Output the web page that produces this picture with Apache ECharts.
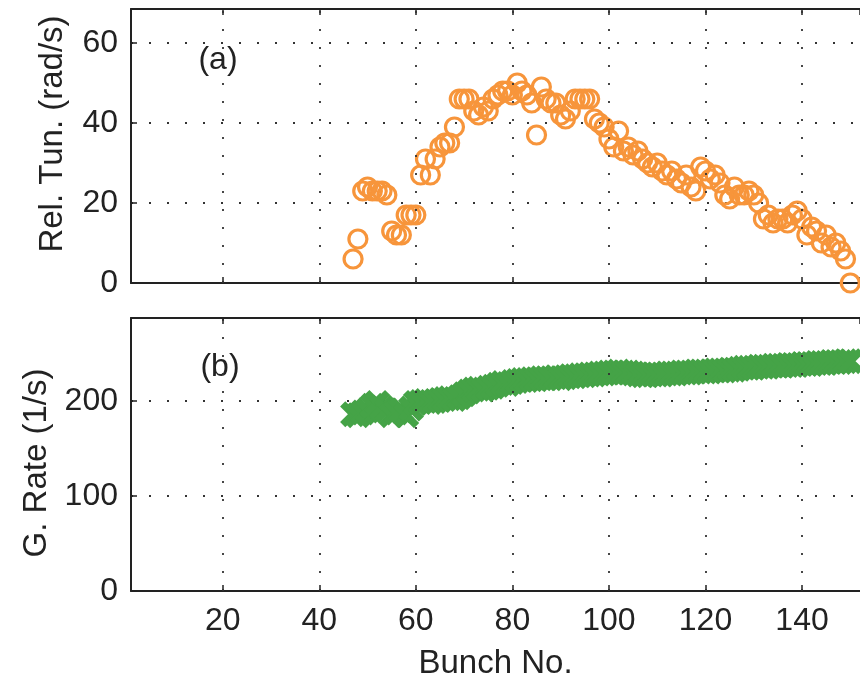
<!DOCTYPE html>
<html>
<head>
<meta charset="utf-8">
<script src="https://cdn.jsdelivr.net/npm/echarts@6/dist/echarts.min.js"></script>
<style>
html,body{margin:0;padding:0;background:#fff;}
#chart{width:860px;height:682px;}
</style>
</head>
<body>
<div id="chart"></div>
<script>
// ---- data ----
var bunchNo = [47,48,49,50,51,52,53,54,55,56,57,58,59,60,61,62,63,64,65,66,67,68,69,70,71,72,73,74,75,76,77,78,79,80,81,82,83,84,85,86,87,88,89,90,91,92,93,94,95,96,97,98,99,100,101,102,103,104,105,106,107,108,109,110,111,112,113,114,115,116,117,118,119,120,121,122,123,124,125,126,127,128,129,130,131,132,133,134,135,136,137,138,139,140,141,142,143,144,145,146,147,148,149,150];
var relTuning = [6,11,23,24,23,23,23,22,13,12,12,17,17,17,27,31,27,31,34,35,35,39,46,46,46,43,42,44,43,46,47,48,48,47,50,48,47,45,37,49,46,45,45,42,41,43,46,46,46,46,41,40,39,36,
  34,38,33,34,32,33,31,30,29,30,28,27,28,26,25,27,24,23,29,28,26,27,25,22,21,24,22,22,23,22,20,16,17,15,16,16,15,17,18,16,12,14,13,10,12,9,10,8,6,0];
var growthRate = [186,185,188,190,195,198,193,190,185,188,190,185,192,198,199,200,199,200,201,202,203,202,204,207,210,212,213,212,214,215,217,219,218,220,221,222,222,223,223,224,224,224,225,224,225,226,226,227,227,228,228,229,229,230,
  230,231,230,230,229,228,227,227,228,228,228,229,229,229,230,230,230,231,231,231,231,232,232,232,233,233,234,235,235,235,236,236,236,237,237,237,238,238,238,239,239,239,240,240,240,241,241,241,242,242];
var xTicks = [20,40,60,80,100,120,140];
var xName = 'Bunch No.';
var yNameA = 'Rel. Tun. (rad/s)';
var yNameB = 'G. Rate (1/s)';
var panelA = '(a)', panelB = '(b)';

var FONT = 'Liberation Sans, Arial, Helvetica, sans-serif';
var AX = '#222';
var ORANGE = '#f7953b';
var GREEN = '#45a347';

var chart = echarts.init(document.getElementById('chart'), null, {renderer:'canvas'});

function pairs(ys){ return bunchNo.map(function(b,i){ return [b, ys[i]]; }); }

function xAxisDef(gridIndex, pos, showLabels){
  return {
    type:'value', gridIndex:gridIndex, position:pos, min:1, max:152,
    splitNumber:7, minInterval:20, maxInterval:20,
    axisLine:{show:true, onZero:false, lineStyle:{color:AX, width:2}},
    axisTick:{show:true, inside:true, length:6, lineStyle:{color:AX, width:1.5}},
    axisLabel:{show:showLabels, showMinLabel:false, showMaxLabel:false, color:'#222', fontSize:32, fontFamily:FONT, margin:14},
    splitLine:{show:false},
    name: (showLabels ? xName : ''), nameLocation:'middle', nameGap:56,
    nameTextStyle:{color:'#222', fontSize:33, fontFamily:FONT}
  };
}
function yAxisDef(gridIndex, max, interval){
  return {
    type:'value', gridIndex:gridIndex, min:0, max:max, interval:interval,
    axisLine:{show:true, lineStyle:{color:AX, width:2}},
    axisTick:{show:true, inside:true, length:6, lineStyle:{color:AX, width:1.5}},
    axisLabel:{show:true, showMaxLabel:false, color:'#222', fontSize:32, fontFamily:FONT, margin:13},
    splitLine:{show:true, lineStyle:{color:'#333', width:1.8, type:[2,16]}}
  };
}
function vGrid(){
  return {
    silent:true, symbol:['none','none'], label:{show:false},
    lineStyle:{color:'#333', width:1.8, type:[2,16]},
    data: xTicks.map(function(t){ return {xAxis:t}; })
  };
}

var xShape = 'path://M0,2 L2,0 L5,3 L8,0 L10,2 L7,5 L10,8 L8,10 L5,7 L2,10 L0,8 L3,5 Z';

chart.setOption({
  animation:false,
  backgroundColor:'#fff',
  grid:[
    {left:131, top:9, width:740, height:274},
    {left:131, top:318, width:740, height:273}
  ],
  xAxis:[
    xAxisDef(0,'bottom',false),
    xAxisDef(0,'top',false),
    xAxisDef(1,'bottom',true),
    xAxisDef(1,'top',false)
  ],
  yAxis:[
    yAxisDef(0, 68.5, 20),
    yAxisDef(1, 287.4, 100)
  ],
  series:[
    {type:'scatter', xAxisIndex:0, yAxisIndex:0, data:[], markLine:vGrid()},
    {type:'scatter', xAxisIndex:2, yAxisIndex:1, data:[], markLine:vGrid()},
    {type:'scatter', xAxisIndex:0, yAxisIndex:0, clip:false, symbol:'circle', symbolSize:18,
      itemStyle:{color:'rgba(0,0,0,0)', borderColor:ORANGE, borderWidth:3.2, opacity:1},
      data:pairs(relTuning)},
    {type:'scatter', xAxisIndex:2, yAxisIndex:1, clip:false, symbol:xShape, symbolSize:26,
      itemStyle:{color:GREEN, opacity:1},
      data:pairs(growthRate)}
  ],
  graphic:[
    {type:'text', x:218, y:60, style:{text:panelA, font:'32px '+FONT, fill:'#222', align:'center', verticalAlign:'middle'}},
    {type:'text', x:220, y:367, style:{text:panelB, font:'32px '+FONT, fill:'#222', align:'center', verticalAlign:'middle'}},
    {type:'text', x:53, y:134, rotation:Math.PI/2, style:{text:yNameA, font:'33px '+FONT, fill:'#222', align:'center', verticalAlign:'middle'}},
    {type:'text', x:37, y:463, rotation:Math.PI/2, style:{text:yNameB, font:'33px '+FONT, fill:'#222', align:'center', verticalAlign:'middle'}}
  ]
});
</script>
</body>
</html>
